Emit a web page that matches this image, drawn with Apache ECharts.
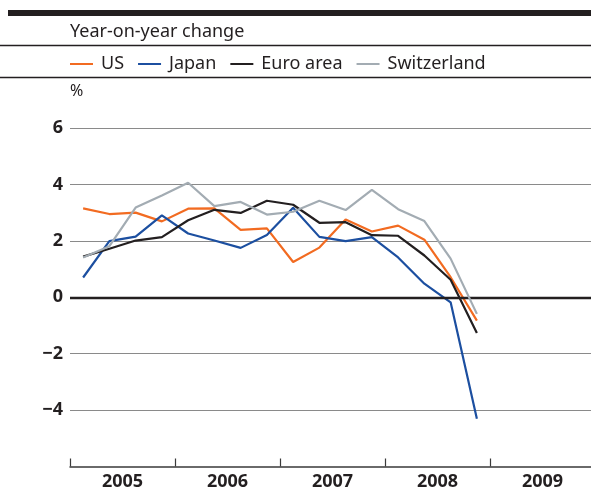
<!DOCTYPE html>
<html>
<head>
<meta charset="utf-8">
<script src="https://cdn.jsdelivr.net/npm/echarts@6/dist/echarts.min.js"></script>
<style>html,body{margin:0;padding:0;background:#fff;}#c{width:591px;height:492px;}</style>
</head>
<body>
<div id="c"></div>
<script>
var years = ['2005', '2006', '2007', '2008', '2009'];
var quarters = ['2005Q1','2005Q2','2005Q3','2005Q4','2006Q1','2006Q2','2006Q3','2006Q4','2007Q1','2007Q2','2007Q3','2007Q4','2008Q1','2008Q2','2008Q3','2008Q4'];
var us = [3.15, 2.95, 3.0, 2.69, 3.14, 3.15, 2.39, 2.44, 1.25, 1.76, 2.76, 2.33, 2.54, 2.04, 0.71, -0.83];
var japan = [0.70, 1.99, 2.15, 2.90, 2.26, 2.01, 1.75, 2.21, 3.17, 2.14, 1.99, 2.13, 1.41, 0.48, -0.18, -4.31];
var euro = [1.44, 1.72, 2.01, 2.13, 2.73, 3.10, 2.99, 3.42, 3.28, 2.64, 2.66, 2.20, 2.18, 1.48, 0.62, -1.27];
var swiss = [1.41, 1.81, 3.18, 3.61, 4.06, 3.23, 3.38, 2.93, 3.03, 3.42, 3.09, 3.81, 3.12, 2.70, 1.37, -0.59];
var yTicks = [-6, -4, -2, 0, 2, 4, 6];
var seriesNames = ['US', 'Japan', 'Euro area', 'Switzerland'];
var colors = ['#f26b21', '#1c4fa0', '#231f20', '#a3acb3'];

function pts(arr) {
  return arr.map(function (v, i) { return [i + 0.5, v]; });
}
var FONT = '"Noto Sans"';
var DARK = '#231f20';
var chart = echarts.init(document.getElementById('c'), null, {renderer: 'canvas'});
var allData = [us, japan, euro, swiss];
var series = allData.map(function (d, k) {
  return {
    name: seriesNames[k],
    type: 'line',
    xAxisIndex: 1,
    data: pts(d),
    symbol: 'none',
    lineStyle: {color: colors[k], width: 2.2},
    itemStyle: {color: colors[k]},
    z: 3 + k
  };
});
series.push({
  type: 'line', xAxisIndex: 1, data: [], silent: true, z: 2,
  markLine: {
    silent: true, symbol: 'none', label: {show: false},
    lineStyle: {color: DARK, width: 2.4, type: 'solid'},
    data: [{yAxis: 0}]
  }
});

chart.setOption({
  animation: false,
  color: colors,
  textStyle: {fontFamily: FONT, color: DARK},
  title: {
    text: 'Year-on-year change', left: 65, top: 18,
    textStyle: {fontFamily: FONT, fontSize: 18, fontWeight: 'normal', color: DARK}
  },
  legend: {
    left: 65, top: 50, icon: 'rect', itemWidth: 23, itemHeight: 2, itemGap: 14,
    data: seriesNames,
    textStyle: {fontFamily: FONT, fontSize: 18, color: DARK, padding: [0, 0, 0, 3]}
  },
  graphic: [
    {type: 'rect', shape: {x: 8, y: 10, width: 583, height: 6}, style: {fill: DARK}, silent: true},
    {type: 'line', shape: {x1: 0, y1: 45.5, x2: 591, y2: 45.5}, style: {stroke: DARK, lineWidth: 1.3}, silent: true},
    {type: 'line', shape: {x1: 0, y1: 77.5, x2: 591, y2: 77.5}, style: {stroke: DARK, lineWidth: 1.3}, silent: true},
    {type: 'text', left: 70, top: 83, style: {text: '%', font: '16px ' + FONT, fill: DARK}, silent: true}
  ],
  grid: {left: 70, right: -4, top: 128, bottom: 25.5, containLabel: false, outerBoundsMode: 'none'},
  xAxis: [
    {
      type: 'category', data: years, boundaryGap: true,
      axisLine: {show: true, onZero: false, lineStyle: {color: '#3a3a3a', width: 1.5}},
      axisTick: {show: true, inside: true, length: 8, lineStyle: {color: '#3a3a3a', width: 1.2}},
      axisLabel: {fontFamily: FONT, fontSize: 18, fontWeight: 'bold', color: DARK, margin: 6},
      splitLine: {show: false}
    },
    {type: 'value', min: 0, max: 20, show: false}
  ],
  yAxis: {
    type: 'value', min: -6, max: 6, interval: 2,
    axisLine: {show: false}, axisTick: {show: false},
    axisLabel: {
      fontFamily: FONT, fontSize: 18, fontWeight: 'bold', color: DARK, margin: 7,
      formatter: function (v) {
        if (v === -6) return '';
        return v < 0 ? '\u2212' + Math.abs(v) : String(v);
      }
    },
    splitLine: {show: true, lineStyle: {color: ['#ffffff', '#8a8a8a', '#8a8a8a', '#ffffff', '#8a8a8a', '#8a8a8a', '#8a8a8a'], width: 1.2}}
  },
  series: series
});
</script>
</body>
</html>
